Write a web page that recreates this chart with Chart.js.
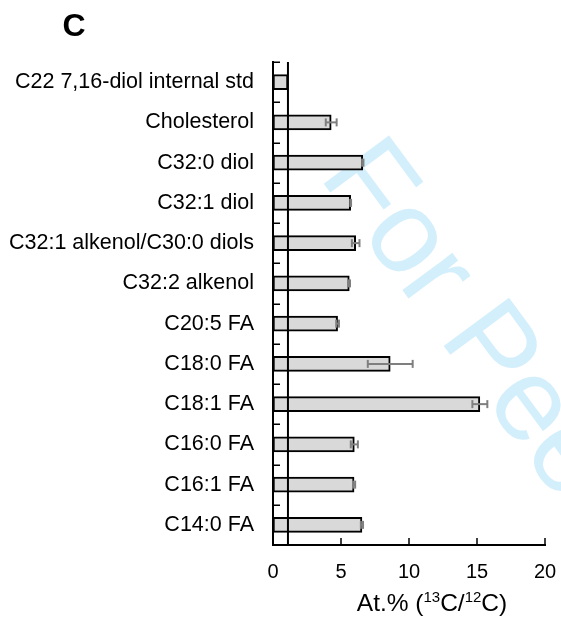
<!DOCTYPE html>
<html>
<head>
<meta charset="utf-8">
<script src="https://cdn.jsdelivr.net/npm/chart.js@4/dist/chart.umd.min.js"></script>
<style>
  html, body { margin: 0; padding: 0; background: #fff; }
  #wrap { width: 561px; height: 623px; position: relative; }
</style>
</head>
<body>
<div id="wrap"><canvas id="chart"></canvas></div>
<script>
// Lipid classes, top to bottom
const lipids = [
  'C22 7,16-diol internal std',
  'Cholesterol',
  'C32:0 diol',
  'C32:1 diol',
  'C32:1 alkenol/C30:0 diols',
  'C32:2 alkenol',
  'C20:5 FA',
  'C18:0 FA',
  'C18:1 FA',
  'C16:0 FA',
  'C16:1 FA',
  'C14:0 FA'
];
// Mean 13C enrichment, At.% (13C/12C)
const atomPercent = [1.1, 4.28, 6.6, 5.71, 6.08, 5.61, 4.75, 8.62, 15.21, 5.98, 5.96, 6.54];
// Standard deviation of each mean
const atomPercentSd = [0, 0.4, 0.05, 0.03, 0.28, 0.05, 0.1, 1.65, 0.55, 0.26, 0.08, 0.08];
// x axis tick values
const xTicks = [0, 5, 10, 15, 20];
// natural 13C abundance reference
const naturalAbundance = 1.1;

const FONT = '"Liberation Sans", Arial, Helvetica, sans-serif';

function line(ctx, x1, y1, x2, y2) {
  ctx.beginPath();
  ctx.moveTo(x1, y1);
  ctx.lineTo(x2, y2);
  ctx.stroke();
}

const decorations = {
  id: 'decorations',
  beforeDraw(chart) {
    // diagonal review stamp behind the plot
    const ctx = chart.ctx;
    ctx.save();
    ctx.translate(318, 176);
    ctx.rotate(53.5 * Math.PI / 180);
    ctx.font = '118px ' + FONT;
    if ('letterSpacing' in ctx) ctx.letterSpacing = '-2px';
    ctx.fillStyle = '#d4effc';
    ctx.textBaseline = 'alphabetic';
    ctx.fillText('For Peer Review', 0, 0);
    ctx.restore();
  },
  afterDatasetsDraw(chart) {
    const { ctx, chartArea, scales: { x, y } } = chart;
    ctx.save();
    // inward tick marks on the category axis, between rows
    ctx.strokeStyle = '#000';
    ctx.lineWidth = 1.5;
    for (let i = 0; i <= lipids.length; i++) {
      const py = Math.round(y.getPixelForValue(i - 0.5)) + 0.25;
      line(ctx, chartArea.left, py, chartArea.left + 7, py);
    }
    // inward tick marks on the value axis
    xTicks.forEach(v => {
      const px = x.getPixelForValue(v);
      line(ctx, px, chartArea.bottom, px, chartArea.bottom - 7);
    });
    // natural abundance line
    ctx.lineWidth = 2;
    const rx = x.getPixelForValue(naturalAbundance);
    line(ctx, rx, chartArea.top, rx, chartArea.bottom);
    // error bars
    ctx.strokeStyle = '#7f7f7f';
    ctx.lineWidth = 2;
    atomPercent.forEach((v, i) => {
      const sd = atomPercentSd[i];
      if (!sd) return;
      const py = y.getPixelForValue(i);
      const x0 = x.getPixelForValue(v - sd);
      const x1 = x.getPixelForValue(v + sd);
      line(ctx, x0, py, x1, py);
      line(ctx, x0, py - 4, x0, py + 4);
      line(ctx, x1, py - 4, x1, py + 4);
    });
    ctx.restore();
  },
  afterDraw(chart) {
    const ctx = chart.ctx;
    ctx.save();
    ctx.fillStyle = '#000';
    // panel letter
    ctx.font = 'bold 32px ' + FONT;
    ctx.textAlign = 'center';
    ctx.textBaseline = 'alphabetic';
    ctx.fillText('C', 74, 36);
    // axis title with superscript isotopes
    const parts = [
      ['At.% (', false], ['13', true], ['C/', false], ['12', true], ['C)', false]
    ];
    const mainFont = '24.5px ' + FONT;
    const supFont = '15px ' + FONT;
    let total = 0;
    parts.forEach(([t, sup]) => {
      ctx.font = sup ? supFont : mainFont;
      total += ctx.measureText(t).width;
    });
    let cx = 432 - total / 2;
    const base = 611;
    ctx.textAlign = 'left';
    parts.forEach(([t, sup]) => {
      ctx.font = sup ? supFont : mainFont;
      ctx.fillText(t, cx, sup ? base - 9 : base);
      cx += ctx.measureText(t).width;
    });
    ctx.restore();
  }
};

new Chart(document.getElementById('chart'), {
  type: 'bar',
  data: {
    labels: lipids,
    datasets: [{
      data: atomPercent,
      backgroundColor: '#d9d9d9',
      borderColor: '#000',
      borderWidth: 2,
      borderSkipped: false,
      barThickness: 15
    }]
  },
  options: {
    indexAxis: 'y',
    responsive: true,
    maintainAspectRatio: false,
    animation: false,
    devicePixelRatio: 1,
    layout: { padding: { top: 62, right: 16, bottom: 0, left: 0 } },
    plugins: {
      legend: { display: false },
      tooltip: { enabled: false }
    },
    scales: {
      x: {
        type: 'linear',
        position: 'bottom',
        min: 0,
        max: 20,
        afterBuildTicks(scale) { scale.ticks = xTicks.map(v => ({ value: v })); },
        afterFit(scale) {
          scale.height = 78;
          scale.paddingLeft = 0;
          scale.paddingRight = 0;
        },
        ticks: { color: '#000', padding: 15, font: { family: FONT, size: 20 } },
        grid: { display: false, drawTicks: false },
        border: { display: true, color: '#000', width: 2 }
      },
      y: {
        type: 'category',
        afterFit(scale) {
          scale.width = 273;
          scale.paddingTop = 0;
          scale.paddingBottom = 0;
        },
        ticks: { color: '#000', padding: 19, font: { family: FONT, size: 21.5 } },
        grid: { display: false, drawTicks: false },
        border: { display: true, color: '#000', width: 2 }
      }
    }
  },
  plugins: [decorations]
});
</script>
</body>
</html>
